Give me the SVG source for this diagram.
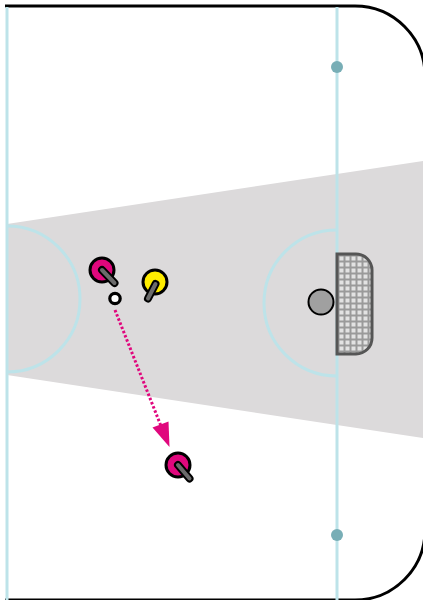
<svg xmlns="http://www.w3.org/2000/svg" width="423" height="600" viewBox="0 0 423 600">
  <defs>
    <style>
      .ice-line { stroke: #bde3e9; stroke-width: 3; fill: none; }
      .dot { fill: #78aeb6; }
      .player { stroke: #000; stroke-width: 3; }
      .stick-outline { stroke: #000; stroke-width: 8; stroke-linecap: round; }
      .stick { stroke: #6b6b6b; stroke-width: 4; stroke-linecap: round; }
      .pass { stroke: #e0077d; stroke-width: 3; stroke-dasharray: 2.5 2; fill: none; }
    </style>
    <pattern id="net" width="6" height="6" patternUnits="userSpaceOnUse" x="338" y="255">
      <rect width="6" height="6" fill="#9a9a9a"/>
      <rect x="1.5" y="1.5" width="4" height="4" fill="#e2e2e2"/>
    </pattern>
  </defs>

  <rect width="423" height="600" fill="#ffffff"/>

  <g id="shooting-zone">
    <polygon points="7,224 423,161 423,438 7,375" fill="#dcdadb"/>
  </g>

  <g id="rink">
    <path d="M5,6 H355 A70,70 0 0 1 425,76 V530 A70,70 0 0 1 355,600 H5" fill="none" stroke="#000" stroke-width="3"/>
    <line class="ice-line" x1="7" y1="7" x2="7" y2="600"/>
    <line class="ice-line" x1="337" y1="7" x2="337" y2="600"/>
    <path class="ice-line" d="M7,226 A73,73 0 0 1 7,372"/>
    <path class="ice-line" d="M337,230 A73,73 0 0 0 337,376"/>
    <circle class="dot" cx="337" cy="67" r="6"/>
    <circle class="dot" cx="337" cy="535" r="6"/>
  </g>

  <g id="goal">
    <path d="M337,254 H356 A16,16 0 0 1 372,270 V338 A16,16 0 0 1 356,354 H337 Z" fill="url(#net)" stroke="#555" stroke-width="3"/>
  </g>

  <g id="goalie">
    <circle cx="321" cy="302" r="12.5" fill="#a0a0a0" stroke="#000" stroke-width="2"/>
  </g>

  <g id="connectors">
    <line class="pass" x1="115" y1="310" x2="161" y2="426"/>
    <path d="M152.5,427.5 L169.5,447 L168.5,421.5 Z" fill="#e0077d"/>
  </g>

  <g id="player-attacker-1">
    <circle class="player" cx="102" cy="270" r="12" fill="#e0077d"/>
    <line class="stick-outline" x1="102" y1="270" x2="114.5" y2="283"/>
    <line class="stick" x1="102" y1="270" x2="114.5" y2="283"/>
  </g>

  <g id="puck">
    <circle cx="115" cy="298.5" r="5.2" fill="#fff" stroke="#000" stroke-width="3.2"/>
  </g>

  <g id="player-defender">
    <circle class="player" cx="155" cy="282" r="12" fill="#ffed00"/>
    <line class="stick-outline" x1="155.5" y1="284" x2="148" y2="298.5"/>
    <line class="stick" x1="155.5" y1="284" x2="148" y2="298.5"/>
  </g>

  <g id="player-attacker-2">
    <circle class="player" cx="178" cy="465" r="12" fill="#e0077d"/>
    <line class="stick-outline" x1="178" y1="465" x2="189.5" y2="478.5"/>
    <line class="stick" x1="178" y1="465" x2="189.5" y2="478.5"/>
  </g>
</svg>
